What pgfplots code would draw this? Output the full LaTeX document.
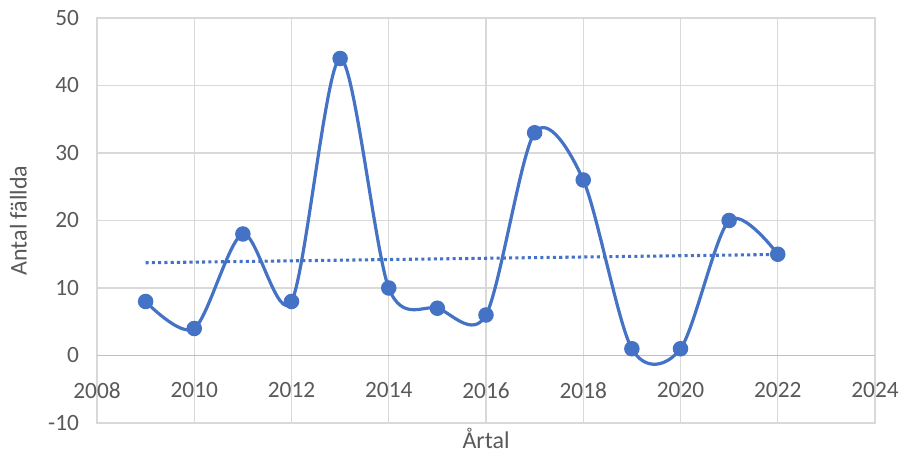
\documentclass[border=0pt]{standalone}
\usepackage{fontspec}
\setmainfont{Carlito}
\usepackage{pgfplots}
\pgfplotsset{compat=1.18}
\definecolor{serie}{HTML}{4472C4}
\definecolor{rutnat}{HTML}{D9D9D9}
\definecolor{nollinje}{HTML}{BFBFBF}
\definecolor{text}{HTML}{595959}

\begin{document}
\begin{tikzpicture}
\begin{axis}[
  scale only axis, width=583.5pt, height=303.75pt,
  xmin=2008, xmax=2024, ymin=-10, ymax=50,
  xtick={2008,2010,...,2024}, ytick={-10,0,...,50},
  grid=major, major grid style={rutnat, line width=0.9pt},
  axis line style={rutnat, line width=0.9pt},
  major tick length=0pt,
  /pgf/number format/assume math mode=true,
  /pgf/number format/1000 sep={},
  ticklabel style={font=\fontsize{17.5}{20}\selectfont, text=text},
  xticklabel style={yshift=34pt},
  yticklabel style={xshift=-10pt},
  xlabel={Årtal}, ylabel={Antal fällda},
  every axis x label/.style={at={(axis description cs:0.5,0)}, anchor=center, yshift=-11.5pt, font=\fontsize{18}{21}\selectfont, text=text},
  every axis y label/.style={at={(axis description cs:0,0.5)}, rotate=90, anchor=center, yshift=59pt, font=\fontsize{18}{21}\selectfont, text=text},
  extra y ticks={0}, extra y tick labels={},
  extra y tick style={grid=major, major grid style={nollinje, line width=0.9pt}},
  clip=false,
]
% trendlinje (linjär)
\addplot[serie, line width=2.3pt, dash pattern=on 2.3pt off 2.4pt]
  coordinates {(2009,13.74) (2022,14.97)};
\addplot[serie, line width=2.4pt, smooth, tension=0.5, mark=*, mark size=4.6pt,
  mark options={fill=serie, draw=serie}]
  coordinates {
  (2009,8) (2010,4) (2011,18) (2012,8) (2013,44) (2014,10) (2015,7)
  (2016,6) (2017,33) (2018,26) (2019,1) (2020,1) (2021,20) (2022,15)};
\end{axis}
\pgfresetboundingbox
\path[use as bounding box] ([shift={(-72.75pt,-28.5pt)}]current axis.south west)
  rectangle ([shift={(24pt,13.5pt)}]current axis.north east);
\end{tikzpicture}
\end{document}
